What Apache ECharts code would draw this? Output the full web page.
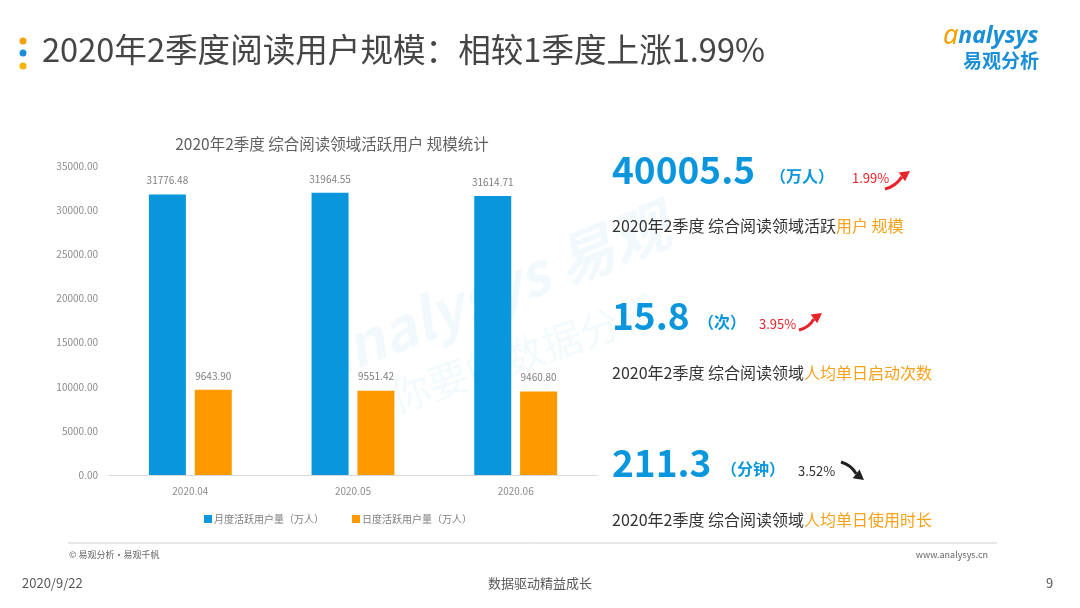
<!DOCTYPE html>
<html>
<head>
<meta charset="utf-8">
<script src="https://cdn.jsdelivr.net/npm/echarts@6/dist/echarts.min.js"></script>
<style>
  html, body { margin: 0; padding: 0; background: #fff; }
  #chart { width: 1080px; height: 608px; }
</style>
</head>
<body>
<div id="chart"></div>
<script>
// 月份
const months = ['2020.04', '2020.05', '2020.06'];
// 月度活跃用户量（万人）
const monthlyActive = [31776.48, 31964.55, 31614.71];
// 日度活跃用户量（万人）
const dailyActive = [9643.90, 9551.42, 9460.80];
// 右侧三项指标
const kpiValues = ['40005.5', '15.8', '211.3'];
const kpiUnits = ['（万人）', '（次）', '（分钟）'];
const kpiChanges = ['1.99%', '3.95%', '3.52%'];
const kpiLabels = ['用户 规模', '人均单日启动次数', '人均单日使用时长'];
const kpiPrefixes = ['2020年2季度 综合阅读领域活跃', '2020年2季度 综合阅读领域', '2020年2季度 综合阅读领域'];

const FONT = '"Noto Sans CJK SC", "Noto Sans", sans-serif';
const BLUE = '#0a96dc';
const ORANGE = '#fe9a00';

let chart = echarts.init(document.getElementById('chart'));

// 弯箭头：曲线 + 三角箭头
function arrow(x1, y1, x2, y2, color, bend) {
  let dx = x2 - x1, dy = y2 - y1;
  let len = Math.sqrt(dx * dx + dy * dy);
  let ux = dx / len, uy = dy / len;
  let px = -uy, py = ux;
  let bx = x2 - ux * 10, by = y2 - uy * 10;
  return [
    {
      type: 'bezierCurve',
      shape: {
        x1: x1, y1: y1, x2: bx, y2: by,
        cpx1: (x1 + bx) / 2 + px * bend, cpy1: (y1 + by) / 2 + py * bend
      },
      style: { stroke: color, lineWidth: 3, fill: null },
      z: 10
    },
    {
      type: 'polygon',
      shape: {
        points: [[x2, y2], [bx + px * 5.5, by + py * 5.5], [bx - px * 5.5, by - py * 5.5]]
      },
      style: { fill: color },
      z: 10
    }
  ];
}

let kpiY = [170, 316, 463];
let descY = [226, 373, 520];
let unitX = [770, 698, 721];
let changeX = [852, 759, 798];
let changeColor = ['#e8242a', '#e8242a', '#333333'];

let graphics = [
  // 左上角圆点
  { type: 'circle', shape: { cx: 23, cy: 41, r: 3.5 }, style: { fill: '#f5a100' } },
  { type: 'circle', shape: { cx: 23, cy: 53, r: 3.5 }, style: { fill: '#1a8fd8' } },
  { type: 'circle', shape: { cx: 23, cy: 66, r: 3.5 }, style: { fill: '#f7b500' } },
  {
    type: 'text', left: 42, top: 33,
    style: { text: '2020年2季度阅读用户规模：相较1季度上涨1.99%', font: '32.6px ' + FONT, fill: '#454545' }
  },
  // logo
  {
    type: 'text', left: 943, top: 23,
    style: {
      text: '{a|a}{b|nalysys}',
      rich: {
        a: { font: 'italic 27px "Noto Sans", sans-serif', fill: '#f5a100' },
        b: { font: 'italic bold 23px "Noto Sans", sans-serif', fill: '#1a8fd8' }
      }
    }
  },
  {
    type: 'text', left: 963, top: 51,
    style: { text: '易观分析', font: 'bold 19px ' + FONT, fill: '#1a8fd8' }
  },
  // 水印
  {
    type: 'text', x: 305, y: 335, rotation: 0.38, z: 0,
    style: { text: 'analysys 易观', font: 'italic bold 58px ' + FONT, fill: 'rgba(10,150,220,0.055)' }
  },
  {
    type: 'text', x: 385, y: 380, rotation: 0.33, z: 0,
    style: { text: '你要的数据分析', font: '40px ' + FONT, fill: 'rgba(10,150,220,0.05)' }
  },
  // 底部
  { type: 'line', shape: { x1: 68, y1: 543, x2: 997, y2: 543 }, style: { stroke: '#cfcfcf', lineWidth: 1 } },
  { type: 'text', left: 69, top: 550, style: { text: '© 易观分析·易观千帆', font: '9px ' + FONT, fill: '#666' } },
  { type: 'text', right: 92, top: 550, style: { text: 'www.analysys.cn', font: '9px ' + FONT, fill: '#666' } },
  { type: 'text', left: 22, top: 577, style: { text: '2020/9/22', font: '13px ' + FONT, fill: '#595959' } },
  { type: 'text', left: 'center', top: 577, style: { text: '数据驱动精益成长', font: '13px ' + FONT, fill: '#595959' } },
  { type: 'text', left: 1046, top: 577, style: { text: '9', font: '13px ' + FONT, fill: '#595959' } }
];

kpiValues.forEach(function (v, i) {
  graphics.push({
    type: 'text', x: 612, y: kpiY[i], style: {
      text: v, font: 'bold 37px ' + FONT, fill: BLUE, verticalAlign: 'middle'
    }
  });
  graphics.push({
    type: 'text', x: unitX[i], y: kpiY[i] + 6, style: {
      text: kpiUnits[i], font: 'bold 16px ' + FONT, fill: BLUE, verticalAlign: 'middle'
    }
  });
  graphics.push({
    type: 'text', x: changeX[i], y: kpiY[i] + 8, style: {
      text: kpiChanges[i], font: '13px ' + FONT, fill: changeColor[i], verticalAlign: 'middle'
    }
  });
  graphics.push({
    type: 'text', x: 612, y: descY[i], style: {
      text: '{a|' + kpiPrefixes[i] + '}{b|' + kpiLabels[i] + '}',
      verticalAlign: 'middle',
      rich: {
        a: { font: '16px ' + FONT, fill: '#333333' },
        b: { font: '16px ' + FONT, fill: '#f7a21b' }
      }
    }
  });
});

graphics = graphics
  .concat(arrow(885, 189, 910, 171, '#e8242a', 4))
  .concat(arrow(799, 330, 822, 313, '#e8242a', 4))
  .concat(arrow(841, 462, 864, 480, '#222222', -4));

chart.setOption({
  backgroundColor: '#fff',
  textStyle: { fontFamily: FONT },
  title: {
    text: '2020年2季度 综合阅读领域活跃用户 规模统计',
    left: 327, top: 131, textAlign: 'center',
    textStyle: { fontSize: 15.5, fontWeight: 'normal', color: '#606060', fontFamily: FONT }
  },
  legend: {
    top: 509, left: 199,
    itemWidth: 8, itemHeight: 8, itemGap: 28,
    icon: 'rect',
    textStyle: { fontSize: 10, color: '#7f7f7f', fontFamily: FONT, padding: [0, 0, 0, -3] },
    data: ['月度活跃用户量（万人）', '日度活跃用户量（万人）']
  },
  grid: { left: 109, right: 483, top: 166, bottom: 133 },
  xAxis: {
    type: 'category',
    data: months,
    axisLine: { lineStyle: { color: '#d9d9d9', width: 1 } },
    axisTick: { show: false },
    axisLabel: { color: '#8c8c8c', fontSize: 10, margin: 11 }
  },
  yAxis: {
    type: 'value',
    min: 0, max: 35000, interval: 5000,
    axisLine: { show: false },
    axisTick: { show: false },
    splitLine: { show: false },
    axisLabel: {
      color: '#8c8c8c', fontSize: 10, margin: 11,
      formatter: function (v) { return v.toFixed(2); }
    }
  },
  series: [
    {
      name: '月度活跃用户量（万人）',
      type: 'bar',
      data: monthlyActive,
      barWidth: 37,
      barGap: '24%',
      itemStyle: { color: BLUE },
      label: {
        show: true, position: 'top', distance: 9,
        color: '#7f7f7f', fontSize: 10,
        formatter: function (p) { return p.value.toFixed(2); }
      }
    },
    {
      name: '日度活跃用户量（万人）',
      type: 'bar',
      data: dailyActive,
      barWidth: 37,
      itemStyle: { color: ORANGE },
      label: {
        show: true, position: 'top', distance: 9,
        color: '#7f7f7f', fontSize: 10,
        formatter: function (p) { return p.value.toFixed(2); }
      }
    }
  ],
  graphic: graphics
});
</script>
</body>
</html>
